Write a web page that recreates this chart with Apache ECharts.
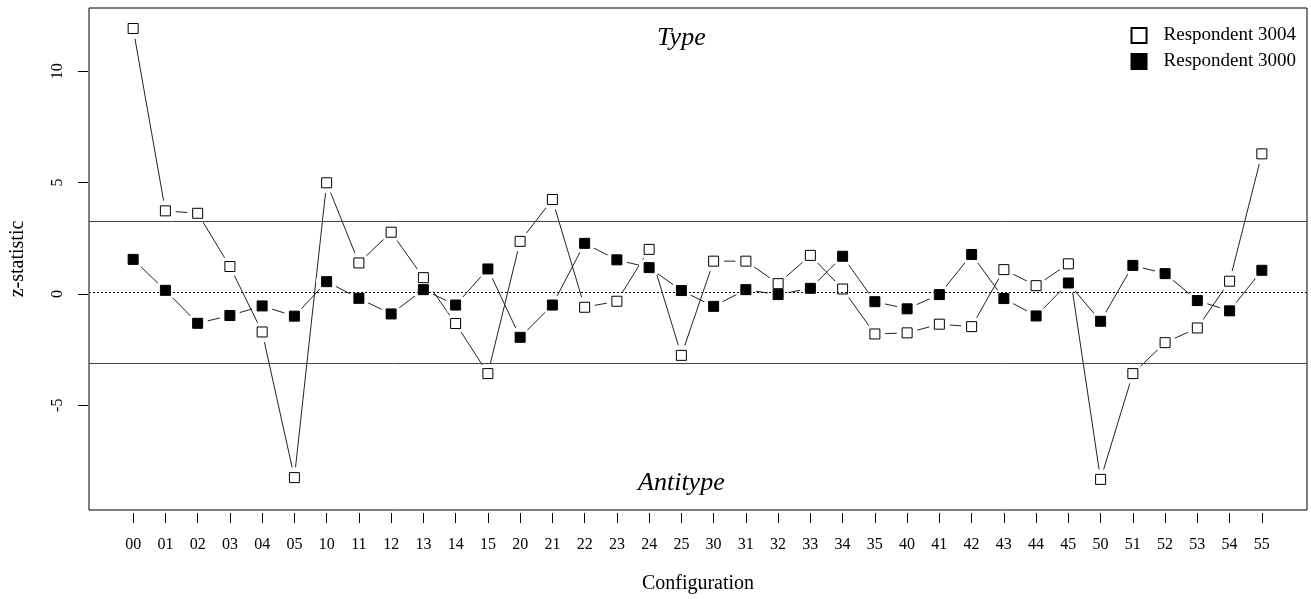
<!DOCTYPE html>
<html>
<head>
<meta charset="utf-8">
<script src="https://cdn.jsdelivr.net/npm/echarts@6/dist/echarts.min.js"></script>
<style>html,body{margin:0;padding:0;background:#fff}#c{width:1311px;height:599px}</style>
</head>
<body>
<div id="c"></div>
<script>
const categories = ['00','01','02','03','04','05','10','11','12','13','14','15','20','21','22','23','24','25','30','31','32','33','34','35','40','41','42','43','44','45','50','51','52','53','54','55'];
const resp3004 = [11.92,3.73,3.62,1.23,-1.71,-8.25,4.99,1.39,2.77,0.73,-1.33,-3.58,2.36,4.24,-0.6,-0.33,2.0,-2.76,1.47,1.47,0.46,1.73,0.22,-1.8,-1.75,-1.36,-1.47,1.09,0.37,1.35,-8.33,-3.58,-2.19,-1.53,0.57,6.29];
const resp3000 = [1.55,0.16,-1.32,-0.97,-0.54,-1.0,0.55,-0.2,-0.9,0.19,-0.5,1.12,-1.95,-0.5,2.27,1.53,1.18,0.15,-0.56,0.19,-0.03,0.25,1.69,-0.35,-0.67,-0.03,1.77,-0.21,-0.99,0.49,-1.23,1.28,0.91,-0.3,-0.76,1.06];
const yTicks = [-5, 0, 5, 10];
const critical = 3.2;
const annotations = [{text:'Type', cat:'25', y:11.5},{text:'Antitype', cat:'25', y:-8.5}];

const Y_MIN = -9.84, Y_MAX = 12.84;
const FONT = '"Liberation Serif","Times New Roman",serif';
const W = 1311, H = 599;
const boxL = 88, boxR = 4, boxT = 8, boxB = 86;
const boxW = W - boxL - boxR, boxH = H - boxT - boxB;
const pad = 1.4, n = categories.length;
const unitX = boxW / (n - 1 + 2 * pad);
const unitY = boxH / (Y_MAX - Y_MIN);
const tickTop = boxT + (Y_MAX - yTicks[yTicks.length-1]) * unitY;
const tickBot = H - (boxT + (Y_MAX - yTicks[0]) * unitY);

const chart = echarts.init(document.getElementById('c'), null, {renderer:'canvas'});
const lineStyle = {color:'#222', width:1};
chart.setOption({
  animation:false,
  backgroundColor:'#fff',
  textStyle:{fontFamily:FONT},
  legend:{
    orient:'vertical', right:10, top:21, itemWidth:15, itemHeight:15, itemGap:7,
    data:['Respondent 3004','Respondent 3000'], icon:'rect',
    textStyle:{fontFamily:FONT, fontSize:19, color:'#000', padding:[0,0,0,12]}
  },
  grid:[
    {left:boxL, right:boxR, top:boxT, bottom:boxB, show:true, borderColor:'#000', borderWidth:1, backgroundColor:'transparent'},
    {left:boxL + pad*unitX, right:boxR + pad*unitX, top:boxT, bottom:boxB},
    {left:boxL, right:boxR, top:tickTop, bottom:tickBot}
  ],
  xAxis:[
    {gridIndex:0, type:'value', min:0, max:1, axisLine:{show:false}, axisTick:{show:false}, axisLabel:{show:false}, splitLine:{show:false},
     name:'Configuration', nameLocation:'middle', nameGap:64, nameTextStyle:{fontFamily:FONT, fontSize:20, color:'#000'}},
    {gridIndex:1, type:'category', data:categories, boundaryGap:false, position:'bottom', axisLine:{show:false, onZero:false},
     axisTick:{show:true, length:10, inside:false, lineStyle:{color:'#000', width:1}, alignWithLabel:true},
     axisLabel:{fontFamily:FONT, fontSize:16, color:'#000', margin:24, interval:0}, splitLine:{show:false}},
    {gridIndex:2, type:'value', min:0, max:1, show:false}
  ],
  yAxis:[
    {gridIndex:0, type:'value', min:Y_MIN, max:Y_MAX, axisLine:{show:false}, axisTick:{show:false}, axisLabel:{show:false}, splitLine:{show:false},
     name:'z-statistic', nameLocation:'middle', nameGap:61, nameTextStyle:{fontFamily:FONT, fontSize:20, color:'#000'}},
    {gridIndex:1, type:'value', min:Y_MIN, max:Y_MAX, show:false},
    {gridIndex:2, type:'value', min:yTicks[0], max:yTicks[yTicks.length-1], interval:5, axisLine:{show:false, onZero:false},
     axisTick:{show:true, length:10, lineStyle:{color:'#000', width:1}},
     axisLabel:{rotate:90, fontFamily:FONT, fontSize:16, color:'#000', margin:22}, splitLine:{show:false}}
  ],
  series:[
    {type:'line', xAxisIndex:0, yAxisIndex:0, data:[], silent:true, z:1,
     markLine:{silent:true, symbol:'none', label:{show:false}, animation:false,
       data:[
         {yAxis:critical, lineStyle:{color:'#444', width:1, type:'solid'}},
         {yAxis:-critical, lineStyle:{color:'#444', width:1, type:'solid'}},
         {yAxis:0, lineStyle:{color:'#000', width:1, type:[2,2]}}
       ]}},
    {name:'l3004', type:'line', xAxisIndex:1, yAxisIndex:1, data:resp3004, showSymbol:false, symbol:'none', lineStyle:lineStyle, z:2, silent:true},
    {name:'l3000', type:'line', xAxisIndex:1, yAxisIndex:1, data:resp3000, showSymbol:false, symbol:'none', lineStyle:lineStyle, z:2, silent:true},
    {name:'m3004', type:'scatter', xAxisIndex:1, yAxisIndex:1, data:resp3004, symbol:'circle', symbolSize:21, itemStyle:{color:'#fff', opacity:1}, z:3, silent:true},
    {name:'m3000', type:'scatter', xAxisIndex:1, yAxisIndex:1, data:resp3000, symbol:'circle', symbolSize:21, itemStyle:{color:'#fff', opacity:1}, z:3, silent:true},
    {name:'Respondent 3004', type:'scatter', xAxisIndex:1, yAxisIndex:1, data:resp3004, symbol:'rect', symbolSize:10,
     itemStyle:{color:'#fff', borderColor:'#000', borderWidth:1, opacity:1}, z:4, silent:true},
    {name:'Respondent 3000', type:'scatter', xAxisIndex:1, yAxisIndex:1, data:resp3000, symbol:'rect', symbolSize:10,
     itemStyle:{color:'#000', borderColor:'#000', borderWidth:1, opacity:1}, z:5, silent:true},
    {name:'ann', type:'scatter', xAxisIndex:1, yAxisIndex:1, symbolSize:0, silent:true, z:6,
     itemStyle:{opacity:1, color:'#000'},
     data:annotations.map(a => ({value:[a.cat, a.y], label:{show:true, formatter:a.text}})),
     label:{show:true, position:'inside', fontFamily:FONT, fontStyle:'italic', fontSize:26, color:'#000', opacity:1}}
  ]
});
</script>
</body>
</html>
